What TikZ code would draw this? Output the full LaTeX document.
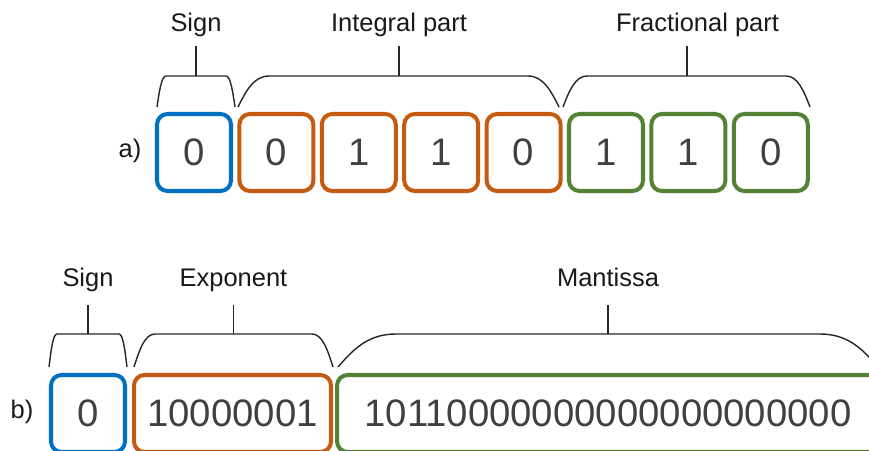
\documentclass[tikz,border=0pt]{standalone}
\usepackage{fontspec}
\setmainfont{Liberation Sans}
\usetikzlibrary{positioning}
\definecolor{signblue}{HTML}{0070C0}
\definecolor{intorange}{HTML}{C55A11}
\definecolor{fracgreen}{HTML}{548235}
\definecolor{digitgray}{HTML}{404040}
\tikzset{
  bit/.style={draw, rounded corners=6pt, line width=2.3pt, minimum width=1.48cm, minimum height=1.54cm, inner sep=0pt, text=digitgray, font=\fontsize{21.8}{24}\selectfont},
  tag/.style={inner sep=0pt, text height=0.75em, text depth=0.22em, text=black!90, font=\fontsize{14.5}{17}\selectfont},
  bracket/.style={line width=0.8pt, black!85},
}
\newcommand{\partbrace}[5]{% left, right, bottom, top, corner
  \draw[bracket] (#1,#3) .. controls (#1+0.25*#5,{(#3+#4)/2}) and (#1+0.5*#5,#4) .. (#1+#5,#4)
    -- (#2-#5,#4) .. controls (#2-0.5*#5,#4) and (#2-0.25*#5,{(#3+#4)/2}) .. (#2,#3);
}
\begin{document}
\begin{tikzpicture}[x=0.02cm, y=-0.02cm]
  \useasboundingbox (0,0) rectangle (869,450);
  \clip (0,0) rectangle (869,450);
  % a) fixed point
  \node[tag] (rowa) at (130,153) {a)};
  \node[bit, draw=signblue] (a0) at (194,152.5) {0};
  \foreach \b [count=\i] in {0,1,1,0}
    \node[bit, draw=intorange] (a\i) at (194+\i*82.4,152.5) {\b};
  \foreach \b [count=\i from 5] in {1,1,0}
    \node[bit, draw=fracgreen] (a\i) at (194+\i*82.4,152.5) {\b};
  \partbrace{157}{235}{107}{76}{9}
  \partbrace{238}{559}{107}{76}{31}
  \partbrace{563}{810}{107}{76}{24}
  \draw[bracket] (196,76) -- (196,46) coordinate (signstema);
  \draw[bracket] (399,76) -- (399,46) coordinate (intstem);
  \draw[bracket] (687,76) -- (687,46) coordinate (fracstem);
  \node[tag, above=6pt of signstema] (signa) {Sign};
  \node[tag, above=6pt of intstem] (intlabel) {Integral part};
  \node[tag, above=6pt of fracstem, xshift=6pt] (fraclabel) {Fractional part};
  % b) floating point
  \node[tag] (rowb) at (22,414) {b)};
  \node[bit, draw=signblue] (b0) at (88,413.5) {0};
  \node[bit, draw=intorange, minimum width=3.94cm] (b1) at (232.5,413.5) {10000001};
  \node[bit, draw=fracgreen, minimum width=10.84cm] (b2) at (608,413.5) {10110000000000000000000};
  \partbrace{49}{127}{367}{334}{8}
  \partbrace{134}{333}{367}{334}{21}
  \partbrace{338}{878}{367}{334}{58}
  \draw[bracket] (88,334) -- (88,305) coordinate (signstemb);
  \draw[bracket] (233.5,334) -- (233.5,305) coordinate (expstem);
  \draw[bracket] (608,334) -- (608,305) coordinate (manstem);
  \node[tag, above=8pt of signstemb] (signb) {Sign};
  \node[tag, above=8pt of expstem] (explabel) {Exponent};
  \node[tag, above=8pt of manstem] (manlabel) {Mantissa};
\end{tikzpicture}
\end{document}
